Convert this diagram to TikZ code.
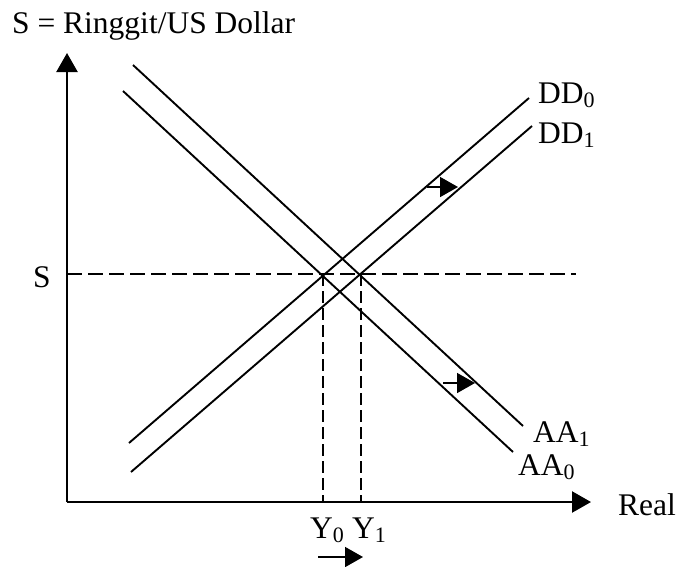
\documentclass[tikz,border=0pt]{standalone}
\usepackage{fontspec}
\setmainfont{Liberation Serif}
\usetikzlibrary{arrows.meta}
\newcommand\sbs[1]{\raisebox{-4pt}{\fontsize{22}{22}\selectfont #1}}
\begin{document}
\begin{tikzpicture}[x=1pt,y=-1pt,
  lbl/.style={anchor=base west,inner sep=0pt,font=\fontsize{31.5}{36}\selectfont},
  curve/.style={line width=1.9pt},
  axis/.style={line width=2.3pt,-{Triangle[length=19pt,width=21pt]}},
  shiftarrow/.style={line width=1.6pt,-{Triangle[length=18pt,width=20pt]}},
  hdash/.style={line width=1.9pt,dash pattern=on 15pt off 6pt},
  vdash/.style={line width=1.9pt,dash pattern=on 12pt off 5pt}]
\useasboundingbox (0,0) rectangle (677,566);
% axes
\coordinate (O) at (67,502);
\coordinate (Ytop) at (67,53);
\coordinate (Xend) at (591,502);
\draw[axis] (O) -- (Ytop);
\draw[axis] (O) -- (Xend);
% curves
\coordinate (dd0a) at (129,443); \coordinate (dd0b) at (529,98);
\coordinate (dd1a) at (131,472); \coordinate (dd1b) at (532,126);
\coordinate (aa0a) at (123,91);  \coordinate (aa0b) at (513,452);
\coordinate (aa1a) at (133,65);  \coordinate (aa1b) at (523,426);
\draw[curve] (dd0a) -- (dd0b);
\draw[curve] (dd1a) -- (dd1b);
\draw[curve] (aa0a) -- (aa0b);
\draw[curve] (aa1a) -- (aa1b);
% dashed
\coordinate (hs) at (67,274); \coordinate (he) at (576,274);
\coordinate (e0) at (323,274); \coordinate (f0) at (323,502);
\coordinate (e1) at (361,274); \coordinate (f1) at (361,502);
\draw[hdash] (hs) -- (he);
\draw[vdash] (e0) -- (f0);
\draw[vdash] (e1) -- (f1);
% shift arrows
\coordinate (s1a) at (427,187); \coordinate (s1b) at (458,187);
\coordinate (s2a) at (443,383); \coordinate (s2b) at (475,383);
\coordinate (s3a) at (318,557); \coordinate (s3b) at (363,557);
\draw[shiftarrow] (s1a) -- (s1b);
\draw[shiftarrow] (s2a) -- (s2b);
\draw[shiftarrow] (s3a) -- (s3b);
% labels
\node[lbl] (title) at (12,33) {S = Ringgit/US Dollar};
\node[lbl] (slab) at (33,287) {S};
\node[lbl] (dd0) at (538,103) {DD\sbs{0}};
\node[lbl] (dd1) at (538,143) {DD\sbs{1}};
\node[lbl] (aa1) at (533,442) {AA\sbs{1}};
\node[lbl] (aa0) at (518,475) {AA\sbs{0}};
\node[lbl] (real) at (618,515) {Real};
\node[lbl] (y0) at (310,538) {Y\sbs{0}};
\node[lbl] (y1) at (352,538) {Y\sbs{1}};
\end{tikzpicture}
\end{document}
